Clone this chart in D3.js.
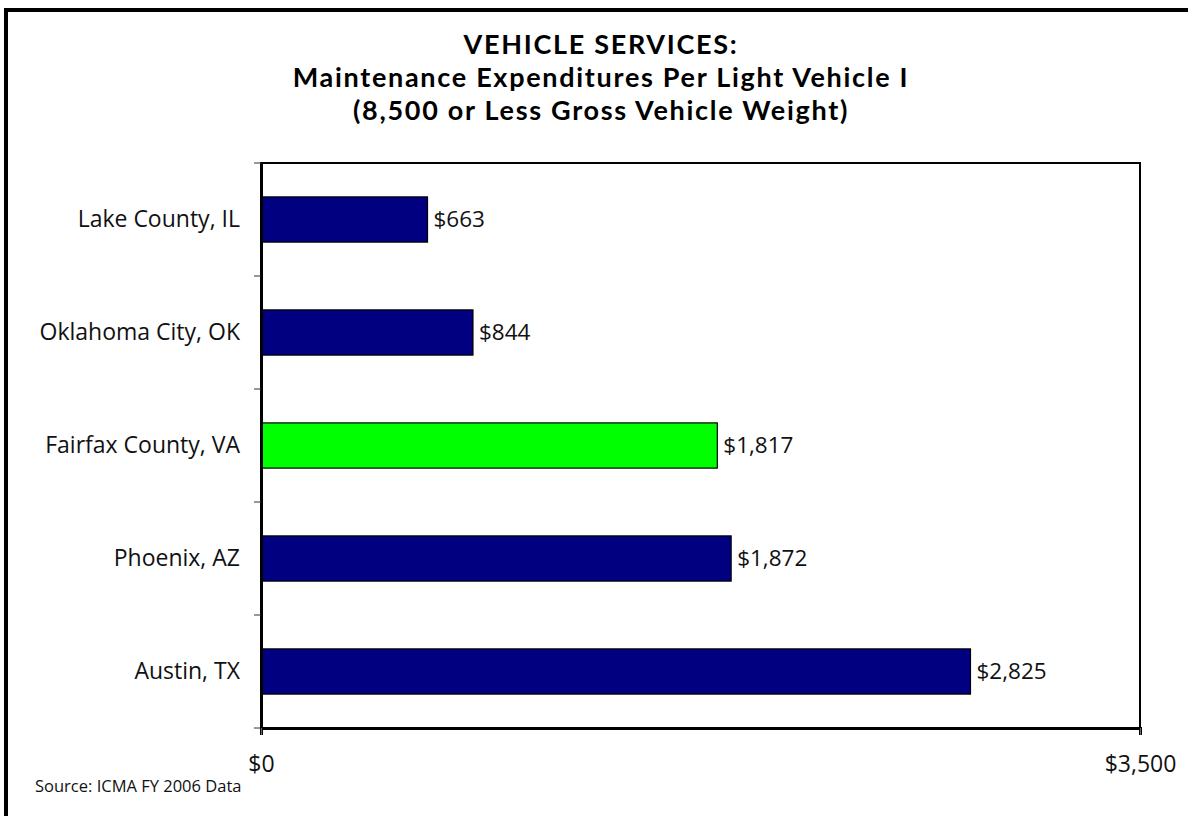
<!DOCTYPE html>
<html>
<head>
<meta charset="utf-8">
<script src="https://cdn.jsdelivr.net/npm/d3@7"></script>
<style>
  html, body { margin: 0; padding: 0; background: #fff; }
  svg { display: block; font-family: "Open Sans", Lato, sans-serif; }
</style>
</head>
<body>
<div id="chart"></div>
<script>
// ── Data ──────────────────────────────────────────────────────────────────
const categories = ['Lake County, IL', 'Oklahoma City, OK', 'Fairfax County, VA', 'Phoenix, AZ', 'Austin, TX'];
const values = [663, 844, 1817, 1872, 2825];
const highlight = 'Fairfax County, VA';
const xTicks = [0, 3500];
const titleLines = [
  'VEHICLE SERVICES:',
  'Maintenance Expenditures Per Light Vehicle I',
  '(8,500 or Less Gross Vehicle Weight)'
];
const sourceNote = 'Source: ICMA FY 2006 Data';

const data = categories.map((c, i) => ({ name: c, value: values[i] }));

// ── Dimensions ────────────────────────────────────────────────────────────
const W = 1188, H = 816;
const plot = { left: 261, right: 1140, top: 163, bottom: 728 };
const FONT = '"Open Sans", Lato, sans-serif';

const svg = d3.select('#chart').append('svg')
  .attr('width', W)
  .attr('height', H);

// outer frame (right/bottom edges run off the page)
svg.append('rect')
  .attr('x', 6).attr('y', 10)
  .attr('width', W).attr('height', H)
  .attr('fill', 'none')
  .attr('stroke', '#000')
  .attr('stroke-width', 4);

// ── Scales ────────────────────────────────────────────────────────────────
const x = d3.scaleLinear()
  .domain([0, 3500])
  .range([plot.left, plot.right]);

const y = d3.scaleBand()
  .domain(categories)
  .range([plot.top, plot.bottom])
  .paddingInner(0.6)
  .paddingOuter(0.3);

// ── Title ─────────────────────────────────────────────────────────────────
// Lato has a tighter line box, so the three close-set lines don't collide
svg.append('text')
  .attr('text-anchor', 'middle')
  .attr('font-weight', 'bold')
  .attr('fill', '#000')
  .style('font-family', 'Lato, sans-serif')
  .style('font-size', '27px')
  .style('letter-spacing', '1.7px')
  .selectAll('tspan')
  .data(titleLines)
  .join('tspan')
  .attr('x', 601)
  .attr('y', (d, i) => 54 + i * 33)
  .text(d => d);

// ── Bars ──────────────────────────────────────────────────────────────────
svg.append('g')
  .selectAll('rect')
  .data(data)
  .join('rect')
  .attr('x', x(0))
  .attr('y', d => y(d.name))
  .attr('width', d => x(d.value) - x(0))
  .attr('height', y.bandwidth())
  .attr('fill', d => d.name === highlight ? '#00ff00' : '#000080')
  .attr('stroke', '#000')
  .attr('stroke-width', 1.2);

// value labels
svg.append('g')
  .selectAll('text')
  .data(data)
  .join('text')
  .attr('x', d => x(d.value) + 6)
  .attr('y', d => y(d.name) + y.bandwidth() / 2)
  .attr('dy', '0.35em')
  .attr('fill', '#111')
  .style('font-size', '22.5px')
  .text(d => '$' + d3.format(',')(d.value));

// ── Plot border ───────────────────────────────────────────────────────────
svg.append('rect')
  .attr('x', plot.left).attr('y', plot.top)
  .attr('width', plot.right - plot.left)
  .attr('height', plot.bottom - plot.top)
  .attr('fill', 'none')
  .attr('stroke', '#000')
  .attr('stroke-width', 2);

// ── Y axis (category) ─────────────────────────────────────────────────────
svg.append('g')
  .attr('transform', `translate(${plot.left},0)`)
  .call(d3.axisLeft(y).tickSize(0).tickPadding(21))
  .call(ax => ax.select('.domain').attr('stroke', '#000').attr('stroke-width', 3))
  .call(ax => ax.selectAll('text').attr('fill', '#111').style('font-size', '23px').style('font-family', FONT));

// tick marks on band boundaries
const bounds = categories.map(c => y(c) - y.step() * y.paddingInner() / 2);
bounds[0] = plot.top;
bounds.push(plot.bottom);
svg.append('g')
  .selectAll('line')
  .data(bounds)
  .join('line')
  .attr('x1', plot.left - 7).attr('x2', plot.left)
  .attr('y1', d => d).attr('y2', d => d)
  .attr('stroke', '#333')
  .attr('stroke-width', 1);

// ── X axis ────────────────────────────────────────────────────────────────
svg.append('g')
  .attr('transform', `translate(0,${plot.bottom})`)
  .call(d3.axisBottom(x).tickValues(xTicks).tickSize(7).tickPadding(21)
    .tickFormat(d => '$' + d3.format(',')(d)))
  .call(ax => ax.select('.domain').attr('stroke', '#000').attr('stroke-width', 3))
  .call(ax => ax.selectAll('.tick line').attr('stroke', '#666'))
  .call(ax => ax.selectAll('text').attr('fill', '#111').style('font-size', '23px').style('font-family', FONT));

// ── Source note ───────────────────────────────────────────────────────────
svg.append('text')
  .attr('x', 35)
  .attr('y', 792)
  .attr('fill', '#111')
  .style('font-size', '16.5px')
  .text(sourceNote);
</script>
</body>
</html>
